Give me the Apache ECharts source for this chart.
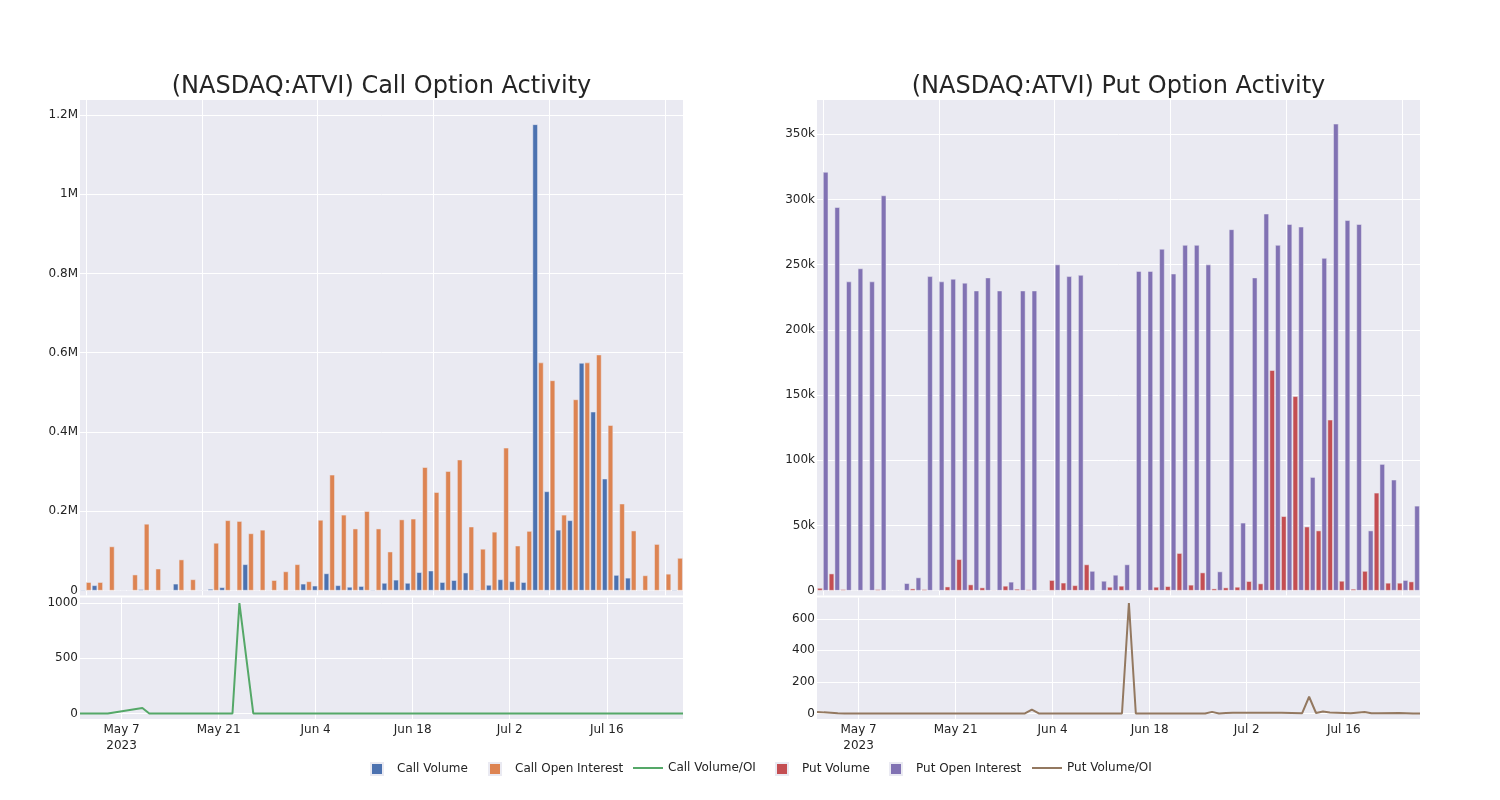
<!DOCTYPE html>
<html>
<head>
<meta charset="utf-8">
<script src="https://cdn.jsdelivr.net/npm/echarts@6/dist/echarts.min.js"></script>
<style>html,body{margin:0;padding:0;background:#fff}#c{width:1500px;height:800px}</style>
</head>
<body>
<div id="c"></div>
<script>
// ---------------- data ----------------
const dates = [
  '2023-05-01','2023-05-02','2023-05-03','2023-05-04','2023-05-05','2023-05-10','2023-05-11','2023-05-12','2023-05-15','2023-05-16',
  '2023-05-17','2023-05-18','2023-05-19','2023-05-22','2023-05-23','2023-05-24','2023-05-26','2023-05-30','2023-05-31','2023-06-01',
  '2023-06-02','2023-06-05','2023-06-06','2023-06-08','2023-06-09','2023-06-12','2023-06-13','2023-06-14','2023-06-15','2023-06-16',
  '2023-06-20','2023-06-22','2023-06-23','2023-06-26','2023-06-27','2023-06-28','2023-06-29','2023-06-30','2023-07-05','2023-07-07',
  '2023-07-10','2023-07-11','2023-07-12','2023-07-13','2023-07-14','2023-07-17','2023-07-19','2023-07-20','2023-07-21','2023-07-24',
  '2023-07-26','2023-07-27'
];
const callVolume = [2000,13000,0,0,0,3000,0,0,17000,1000, 0,4000,8000,1000,66000,1000,0,0,0,17000,
  12000,43000,13000,9000,11000,2000,19000,27000,19000,46000, 50000,21000,26000,45000,2000,14000,28000,23000,21000,1176000,
  250000,153000,177000,574000,451000,282000,39000,32000,0,1000, 1000,2000];
const callOpenInterest = [21000,21000,111000,0,40000,168000,55000,0,78000,28000, 0,120000,177000,175000,144000,153000,26000,48000,66000,23000,
  178000,292000,191000,156000,200000,156000,98000,179000,181000,311000, 248000,301000,330000,161000,105000,148000,360000,113000,150000,575000,
  530000,191000,482000,575000,595000,417000,219000,151000,38000,117000, 42000,82000];
const callVolumeOI = [0,0,0,0,0,50,0,0,0,0, 0,0,0,0,0,1000,0,0,0,0, 0,0,0,0,0,0,0,0,0,0,
  0,0,0,0,0,0,0,0,0,0, 0,0,0,0,0,0,0,0,0,0, 0,0];
const putVolume = [2000,13000,1000,0,0,1000,0,0,1500,1000, 0,3000,24000,4600,2300,500,3600,1300,800,0,
  8000,6000,4000,20000,0,2800,3600,500,500,2800, 3300,28700,4400,13800,1500,2300,2800,7200,5400,169000,
  57000,149000,49000,46000,131000,7400,1300,15000,75000,5900, 5900,6900];
const putOpenInterest = [321000,294000,237000,247000,237000,303000,0,5600,10000,241000, 237000,239000,236000,230000,240000,230000,6700,230000,230000,0,
  250000,241000,242000,15000,7400,12000,20000,245000,245000,262000, 243000,265000,265000,250000,14600,277000,52000,240000,289000,265000,
  281000,279000,87000,255000,358000,284000,281000,46000,97000,85000, 8000,65000];
const putVolumeOI = [10,7,5,2,0,0,0,0,0,0, 0,0,0,0,0,0,0,0,0,25, 0,0,0,0,0,0,0,0,700,0,
  0,0,0,0,10,0,3,4,5,4, 2,106,3,12,6,2,10,1,2,3, 0,0];
const dateTicks = ['2023-05-07','2023-05-21','2023-06-04','2023-06-18','2023-07-02','2023-07-16'];
const months = ['Jan','Feb','Mar','Apr','May','Jun','Jul','Aug','Sep','Oct','Nov','Dec'];
const legendNames = ['Call Volume','Call Open Interest','Call Volume/OI','Put Volume','Put Open Interest','Put Volume/OI'];

// ---------------- helpers ----------------
const DAY = 86400000;
const toMs = s => { const p = s.split('-').map(Number); return Date.UTC(p[0], p[1]-1, p[2]); };
const xMin = toMs(dates[0]), xMax = toMs(dates[dates.length-1]);
const tickSet = new Set(dateTicks.map(toMs));
const firstTick = toMs(dateTicks[0]);
function lineColors(period, idx) {
  const a = new Array(period).fill('rgba(0,0,0,0)');
  a[idx] = '#ffffff';
  return a;
}
const BG = 'rgb(234,234,242)';
const TXT = '#242424';
const FONT = 'DejaVu Sans';
const xLabelFmt = v => {
  if (!tickSet.has(v)) return '';
  const d = new Date(v);
  let s = months[d.getUTCMonth()] + ' ' + d.getUTCDate();
  if (v === firstTick) s += '\n' + d.getUTCFullYear();
  return s;
};
const xIdx = ((firstTick - xMin) / DAY) % 14;
const pairs = arr => dates.map((d, i) => [toMs(d), arr[i]]);

function catX(grid) {
  return {gridIndex: grid, type: 'category', data: dates, boundaryGap: true,
    axisLine: {show: false}, axisTick: {show: false}, axisLabel: {show: false},
    splitLine: {show: true, interval: 9, alignWithLabel: true, lineStyle: {color: '#ffffff', width: 1}}};
}
function timeX(grid) {
  return {gridIndex: grid, type: 'value', min: xMin, max: xMax, interval: DAY,
    axisLine: {show: false}, axisTick: {show: false},
    axisLabel: {formatter: xLabelFmt, color: TXT, fontFamily: FONT, fontSize: 12, lineHeight: 16, margin: 3},
    splitLine: {show: true, lineStyle: {color: lineColors(14, xIdx), width: 1}}};
}
function valY(grid, min, max, interval, period, idx, fmt) {
  return {gridIndex: grid, type: 'value', min: min, max: max, interval: interval,
    axisLine: {show: false}, axisTick: {show: false},
    axisLabel: {formatter: fmt, color: TXT, fontFamily: FONT, fontSize: 12, margin: 2, padding: [3, 0, 0, 0]},
    splitLine: {show: true, lineStyle: {color: lineColors(period, idx), width: 1}}};
}
const callFmt = v => v % 200000 === 0 ? (v === 0 ? '0' : (v / 1e6) + 'M') : '';
const putFmt = v => v % 50000 === 0 ? (v === 0 ? '0' : (v / 1000) + 'k') : '';
const cRatioFmt = v => v % 500 === 0 ? String(v) : '';
const pRatioFmt = v => v % 200 === 0 ? String(v) : '';

function bar(name, data, color, xi, yi) {
  return {name: name, type: 'bar', xAxisIndex: xi, yAxisIndex: yi, data: data,
    barWidth: 5.2, barGap: '10%',
    itemStyle: {color: color, borderColor: BG, borderWidth: 0.5}};
}
function line(name, data, color, xi, yi) {
  return {name: name, type: 'line', xAxisIndex: xi, yAxisIndex: yi, data: pairs(data),
    symbol: 'none', showSymbol: false, clip: true,
    lineStyle: {color: color, width: 2}, itemStyle: {color: color}};
}
const SQ = 'path://M0,0H12V12H0Z';
const LN = 'path://M0,0H30V2H0Z';
const legendIcons = [SQ, SQ, LN, SQ, SQ, LN];
const legendLefts = [370, 488, 633, 775, 889, 1032];
const legends = legendNames.map((n, i) => ({
  left: legendLefts[i], top: 762, padding: 0, itemWidth: 30, itemHeight: 12, itemGap: 11,
  textStyle: {fontFamily: FONT, fontSize: 12, color: TXT},
  data: [{name: n, icon: legendIcons[i]}]
}));

const option = {
  animation: false,
  backgroundColor: '#ffffff',
  textStyle: {fontFamily: FONT},
  title: [
    {text: '(NASDAQ:ATVI) Call Option Activity', left: 381.5, top: 86.5, textAlign: 'center', textVerticalAlign: 'middle', padding: 0,
     textStyle: {fontFamily: FONT, fontSize: 24, fontWeight: 'normal', color: TXT}},
    {text: '(NASDAQ:ATVI) Put Option Activity', left: 1118.5, top: 86.5, textAlign: 'center', textVerticalAlign: 'middle', padding: 0,
     textStyle: {fontFamily: FONT, fontSize: 24, fontWeight: 'normal', color: TXT}}
  ],
  legend: legends,
  grid: [
    {left: 80, top: 100, width: 603, height: 495.5, show: true, backgroundColor: BG, borderWidth: 0},
    {left: 80, top: 597.5, width: 603, height: 121.5, show: true, backgroundColor: BG, borderWidth: 0},
    {left: 817, top: 100, width: 603, height: 495.5, show: true, backgroundColor: BG, borderWidth: 0},
    {left: 817, top: 597.5, width: 603, height: 121.5, show: true, backgroundColor: BG, borderWidth: 0}
  ],
  xAxis: [catX(0), timeX(1), catX(2), timeX(3)],
  yAxis: [
    valY(0, -12500, 1237500, 12500, 16, 1, callFmt),
    valY(1, -50, 1050, 50, 10, 1, cRatioFmt),
    valY(2, -3750, 376250, 1250, 40, 3, putFmt),
    valY(3, -35, 735, 5, 40, 7, pRatioFmt)
  ],
  series: [
    bar('Call Volume', callVolume, 'rgb(76,114,176)', 0, 0),
    bar('Call Open Interest', callOpenInterest, 'rgb(221,132,82)', 0, 0),
    line('Call Volume/OI', callVolumeOI, 'rgb(85,168,104)', 1, 1),
    bar('Put Volume', putVolume, 'rgb(196,78,82)', 2, 2),
    bar('Put Open Interest', putOpenInterest, 'rgb(129,114,179)', 2, 2),
    line('Put Volume/OI', putVolumeOI, 'rgb(147,120,96)', 3, 3)
  ]
};
const chart = echarts.init(document.getElementById('c'), null, {renderer: 'canvas', width: 1500, height: 800});
chart.setOption(option);
</script>
</body>
</html>
